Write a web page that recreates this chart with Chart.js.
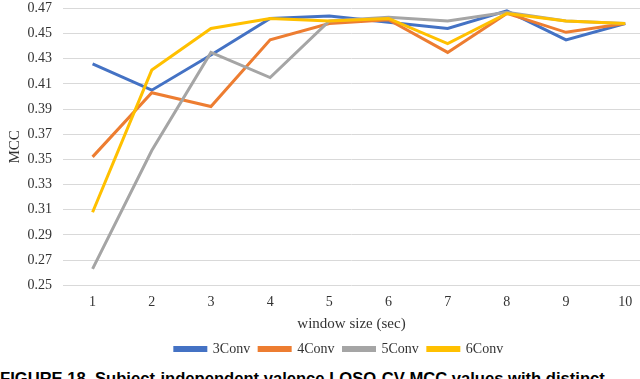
<!DOCTYPE html>
<html>
<head>
<meta charset="utf-8">
<script src="https://cdn.jsdelivr.net/npm/chart.js@4"></script>
<style>
  html,body{margin:0;padding:0;background:#fff;overflow:hidden;width:640px;height:379px;}
  #wrap{position:absolute;left:0;top:-11px;width:640px;height:377px;}
  #cap{position:absolute;left:0;top:371px;font:bold 16.6px "Liberation Sans",Arial,sans-serif;line-height:16.6px;white-space:nowrap;color:#000;}
</style>
</head>
<body>
<div id="wrap"><canvas id="ch"></canvas></div>
<div id="cap">FIGURE 18. Subject-independent valence LOSO-CV MCC values with distinct</div>
<script>
// window sizes (sec)
const windows=[1,2,3,4,5,6,7,8,9,10];
const conv3=[0.426,0.405,0.433,0.462,0.464,0.459,0.454,0.468,0.445,0.458];
const conv4=[0.352,0.403,0.392,0.445,0.458,0.461,0.435,0.466,0.451,0.458];
const conv5=[0.263,0.357,0.435,0.415,0.460,0.463,0.460,0.467,0.460,0.458];
const conv6=[0.308,0.421,0.454,0.462,0.460,0.462,0.442,0.466,0.460,0.458];
const yTicks=[0.25,0.27,0.29,0.31,0.33,0.35,0.37,0.39,0.41,0.43,0.45,0.47];

const serif='"Liberation Serif","Times New Roman",serif';
const pts=a=>a.map((v,i)=>({x:windows[i],y:v}));
const ds=(label,data,color,order)=>({label,data:pts(data),borderColor:color,backgroundColor:color,
  borderWidth:3,pointRadius:0,tension:0,order});

// legend sits a bit right of centre in the original
const legendShift={id:'legendShift',afterLayout(c){ if(c.legend){ c.legend.left+=16; c.legend.right+=16; } }};

new Chart(document.getElementById('ch'),{
  type:'line',
  data:{datasets:[
    ds('3Conv',conv3,'#4472C4',4),
    ds('4Conv',conv4,'#ED7D31',3),
    ds('5Conv',conv5,'#A5A5A5',2),
    ds('6Conv',conv6,'#FFC000',1)
  ]},
  plugins:[legendShift],
  options:{
    responsive:true,maintainAspectRatio:false,animation:false,
    layout:{padding:{top:1,right:0,left:6,bottom:0}},
    plugins:{
      tooltip:{enabled:false},
      legend:{position:'bottom',
        labels:{boxWidth:31,boxHeight:3,padding:9,color:'#333',font:{family:serif,size:14},
          sort:(a,b)=>a.datasetIndex-b.datasetIndex}}
    },
    scales:{
      x:{type:'linear',min:0.5,max:10.25,
        afterBuildTicks:s=>{s.ticks=windows.map(v=>({value:v}));},
        grid:{display:false},border:{display:false},
        ticks:{color:'#333',font:{family:serif,size:14},padding:1,maxRotation:0},
        title:{display:true,text:'window size (sec)',color:'#333',font:{family:serif,size:15},padding:{top:3,bottom:0}}
      },
      y:{min:0.25,max:0.47,
        afterBuildTicks:s=>{s.ticks=yTicks.map(v=>({value:v}));},
        afterFit:s=>{s.width=57;},
        grid:{color:'#D9D9D9',lineWidth:1,drawTicks:false},border:{display:false},
        ticks:{color:'#333',font:{family:serif,size:14},padding:11,callback:v=>v.toFixed(2)},
        title:{display:true,text:'MCC',color:'#333',font:{family:serif,size:15},padding:{top:0,bottom:0}}
      }
    }
  }
});
</script>
</body>
</html>
